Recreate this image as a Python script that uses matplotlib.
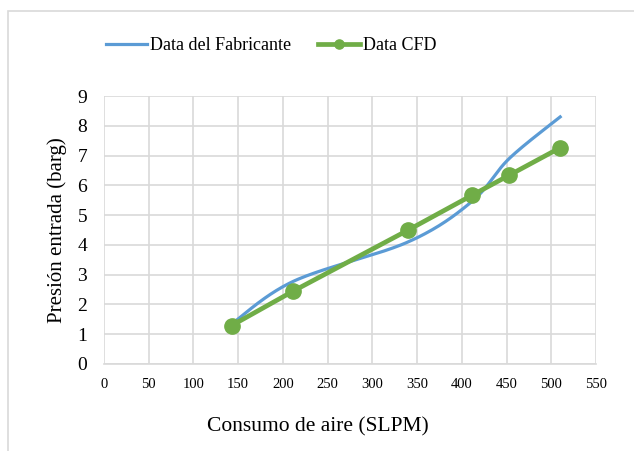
import matplotlib.pyplot as plt
import numpy as np
from matplotlib.patches import Rectangle

# datos
consumo_fab = [143, 212, 340, 411, 453, 510]
presion_fab = [1.35, 2.78, 4.10, 5.45, 6.90, 8.30]
consumo_cfd = [142.7, 211.7, 340.2, 411.0, 453.0, 509.8]
presion_cfd = [1.29, 2.45, 4.50, 5.66, 6.34, 7.26]

x_ticks = list(range(0, 551, 50))
y_ticks = list(range(0, 10))

azul = '#5b9bd5'
verde = '#70ad47'
gris = '#d9d9d9'


def suavizar(xs, ys, n=40):
    # curva suavizada tipo Excel (Bezier con tangentes de Catmull-Rom)
    p = np.column_stack([xs, ys]).astype(float)
    p_ext = np.vstack([p[0], p, p[-1]])
    out = []
    for i in range(len(p) - 1):
        p0, p1, p2, p3 = p_ext[i], p_ext[i + 1], p_ext[i + 2], p_ext[i + 3]
        c1 = p1 + (p2 - p0) / 6
        c2 = p2 - (p3 - p1) / 6
        t = np.linspace(0, 1, n)[:, None]
        seg = ((1 - t) ** 3) * p1 + 3 * ((1 - t) ** 2) * t * c1 + 3 * (1 - t) * t ** 2 * c2 + t ** 3 * p2
        out.append(seg)
    c = np.vstack(out)
    return c[:, 0], c[:, 1]


plt.rcParams['font.family'] = ['Liberation Serif', 'DejaVu Serif']

fig = plt.figure(figsize=(6.34, 4.51), dpi=100)
ax = fig.add_axes([0.164, 0.193, 0.776, 0.594])

# marco exterior
fig.patches.append(Rectangle((8 / 634, -0.05), 1.2, 1 - 11 / 451 + 0.05,
                             transform=fig.transFigure, fill=False,
                             edgecolor=gris, linewidth=1.2))

sx, sy = suavizar(consumo_fab, presion_fab)
ax.plot(sx, sy, color=azul, linewidth=2.3, label='Data del Fabricante', zorder=3)
ax.plot(consumo_cfd, presion_cfd, color=verde, linewidth=3.4, marker='o',
        markersize=11, label='Data CFD', zorder=4)

ax.set_xlim(0, 550)
ax.set_ylim(0, 9)
ax.set_xticks(x_ticks)
ax.set_yticks(y_ticks)
ax.grid(True, color=gris, linewidth=1.2)
ax.set_axisbelow(True)
for s in ax.spines.values():
    s.set_visible(False)
ax.spines['bottom'].set_visible(True)
ax.spines['bottom'].set_color(gris)
ax.spines['bottom'].set_linewidth(1.2)
ax.tick_params(length=0)
ax.tick_params(axis='x', labelsize=10.5, pad=10)
ax.tick_params(axis='y', labelsize=14, pad=12)

ax.set_xlabel('Consumo de aire (SLPM)', fontsize=15.5)
ax.set_ylabel('Presión entrada (barg)', fontsize=15)
ax.xaxis.set_label_coords((318 - 104) / 492, (364 - 427) / 268)
ax.yaxis.set_label_coords((57 - 104) / 492, 0.5)
ax.xaxis.label.set_va('center')
ax.yaxis.label.set_va('center')

fig.legend(loc='center', bbox_to_anchor=(271 / 634, 1 - 46 / 451), ncol=2,
           frameon=False, fontsize=13, handlelength=2.3, handletextpad=0.15,
           columnspacing=1.5, markerscale=0.6)

fig.savefig('out.png', dpi=100)
